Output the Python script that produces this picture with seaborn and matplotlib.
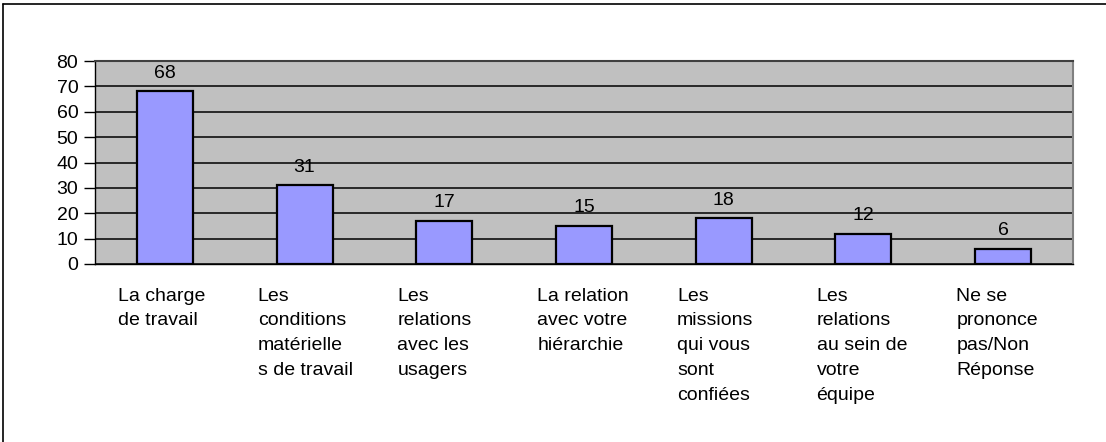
import matplotlib
matplotlib.use('Agg')
import matplotlib.pyplot as plt
import seaborn as sns
import pandas as pd
from matplotlib.lines import Line2D

# Chart data
categories = [
    'La charge\nde travail',
    'Les\nconditions\nmatérielle\ns de travail',
    'Les\nrelations\navec les\nusagers',
    'La relation\navec votre\nhiérarchie',
    'Les\nmissions\nqui vous\nsont\nconfiées',
    'Les\nrelations\nau sein de\nvotre\néquipe',
    'Ne se\nprononce\npas/Non\nRéponse',
]
values = [68, 31, 17, 15, 18, 12, 6]
y_ticks = [0, 10, 20, 30, 40, 50, 60, 70, 80]

df = pd.DataFrame({'cat': categories, 'val': values})

sns.set_style('white')
plt.rcParams['font.family'] = ['Liberation Sans', 'DejaVu Sans']
plt.rcParams['text.color'] = 'black'
plt.rcParams['xtick.color'] = 'black'
plt.rcParams['ytick.color'] = 'black'

W, H = 1106, 442
fig = plt.figure(figsize=(W / 100, H / 100), dpi=100)
fig.patch.set_facecolor('white')

# plot area in pixel coordinates
left, right, top, bottom = 95, 1073, 61, 264
ax = fig.add_axes([left / W, 1 - bottom / H, (right - left) / W, (bottom - top) / H])
ax.set_facecolor('#C0C0C0')

sns.barplot(data=df, x='cat', y='val', color='#9999FF', edgecolor='black',
            linewidth=1.6, width=0.4, saturation=1, ax=ax, zorder=3)

fs = 14
ax.set_ylim(0, 80)
ax.set_xlim(-0.5, len(categories) - 0.5)
ax.set_yticks(y_ticks)
ax.set_yticklabels([str(v) for v in y_ticks], fontsize=fs)
ax.yaxis.grid(True, color='black', linewidth=1.1, zorder=0)
ax.set_axisbelow(True)

# category boundaries as major ticks, labels as minor ticks
n = len(categories)
ax.set_xticks([i - 0.5 for i in range(n + 1)])
ax.set_xticklabels([''] * (n + 1))
ax.set_xticks([i - 0.335 for i in range(n)], minor=True)
ax.set_xticklabels(categories, minor=True, fontsize=fs, ha='left', va='top',
                   linespacing=1.6)
ax.tick_params(axis='x', which='major', direction='out', length=8, width=1, color='black')
ax.tick_params(axis='x', which='minor', length=0, pad=17)
ax.tick_params(axis='y', direction='out', length=8, width=1, color='black', pad=4, left=True)

ax.set_xlabel('')
ax.set_ylabel('')

for sp in ['left', 'bottom']:
    ax.spines[sp].set_color('black')
    ax.spines[sp].set_linewidth(1)
ax.spines['top'].set_color('#404040')
ax.spines['top'].set_linewidth(1.5)
ax.spines['right'].set_color('#808080')
ax.spines['right'].set_linewidth(1.5)

ax.bar_label(ax.containers[0], labels=[str(v) for v in values], fontsize=fs,
             padding=7, color='black')

# outer chart border (left and top visible)
fig.add_artist(Line2D([3 / W, 3 / W], [0, 1 - 4 / H], transform=fig.transFigure,
                      color='black', linewidth=1.2))
fig.add_artist(Line2D([3 / W, 1], [1 - 4 / H, 1 - 4 / H], transform=fig.transFigure,
                      color='black', linewidth=1.2))

fig.savefig('out.png', dpi=100)
